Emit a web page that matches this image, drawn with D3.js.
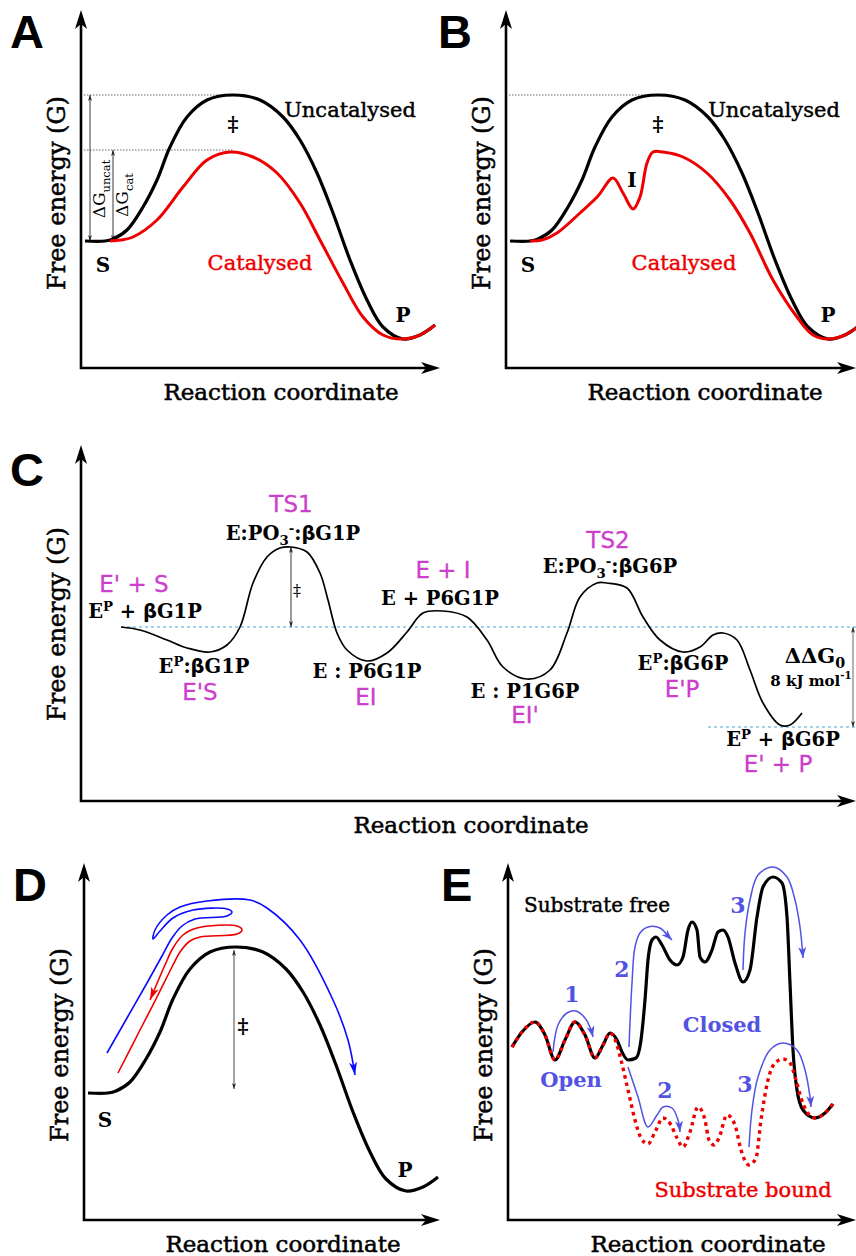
<!DOCTYPE html>
<html>
<head>
<meta charset="utf-8">
<script src="https://cdn.jsdelivr.net/npm/d3@7"></script>
<style>
  body { margin: 0; background: #fff; }
  svg { display: block; }
</style>
</head>
<body>
<script>
// all values: [reaction coordinate, free energy] measured from each panel's origin

// black barrier, shared by A, B and D
var uncatalysed = [[4,127],[24,127],[32,129],[46,138],[62,161],[76,188],[89,221],[106,251],[126,268],[152,273],
  [179,268],[202,251],[219,228],[236,195],[252,155],[269,108],[286,68],[302,41],[322,29],[339,33],[354,43]];
var catalysedA = [[29,127],[40,128],[52,131],[76,148],[102,181],[126,208],[149,216],[172,211],[196,195],[219,165],
  [239,128],[262,85],[282,51],[302,33],[322,29],[339,33],[354,43]];
var catalysedB = [[24,127],[36,128],[51,135],[74,155],[92,172],[107,190],[117,175],[127,159],[134,171],[141,205],
  [147,216],[157,216],[177,211],[201,195],[224,168],[244,135],[267,88],[291,51],[307,33],[322,29],[339,33],[354,43]];
var tsUncat = 273, tsCat = 218, groundS = 127;

// panel C profile
var profileC = [[40,174],[59,171],[86,161],[106,153],[129,149],[146,156],[159,174],[172,218],[186,244],[199,253],
  [210,254],[226,249],[239,228],[247,201],[256,168],[266,151],[286,140],[306,148],[326,169],[342,188],[362,190],
  [386,184],[406,161],[422,134],[446,122],[469,131],[486,168],[499,204],[516,218],[526,218],[546,213],[562,184],
  [579,161],[602,149],[619,154],[632,166],[642,168],[656,161],[669,131],[682,98],[699,76],[709,76],[721,88]];
var levelStart = 174, levelEnd = 74, ts1 = [210, 254];

// panel D trajectories
var recrossing = [[34,147],[56,190],[73,223],[89,255],[96,268],[106,279],[116,283],[153,286],[158,290],[153,294],
  [113,292],[99,285],[89,272],[81,255],[66,220]];
var crossing = [[23,167],[43,202],[63,237],[78,264],[88,282],[98,294],[111,301],[143,304],[148,308],[143,311],
  [109,310],[89,302],[76,289],[69,281],[71,290],[83,305],[96,313],[123,319],[166,320],[183,312],[216,280],
  [249,220],[264,180],[271,145]];
var tsD = [150, 131, 270];

// panel E landscapes
var substrateFree = [[4,173],[14,188],[27,198],[37,185],[47,160],[57,180],[67,198],[77,185],[87,162],[95,175],
  [102,187],[109,180],[114,168],[120,160],[128,162],[133,180],[137,220],[140,260],[144,280],[148,283],[154,275],
  [162,260],[169,255],[175,263],[180,290],[184,298],[189,290],[192,263],[197,258],[204,270],[210,288],[215,290],
  [220,283],[227,257],[235,238],[242,250],[249,303],[255,333],[265,343],[274,337],[279,303],[282,237],[285,170],
  [289,130],[295,110],[307,102],[317,107],[325,116]];
var substrateBound = [[4,173],[14,188],[27,198],[37,185],[47,160],[57,180],[67,198],[77,185],[87,162],[95,175],
  [102,187],[108,178],[113,160],[120,130],[127,100],[133,82],[140,76],[147,88],[155,102],[163,95],[169,82],
  [175,73],[182,88],[190,113],[197,100],[201,80],[206,75],[211,82],[219,105],[227,95],[233,70],[241,55],[248,62],
  [253,100],[260,140],[268,158],[275,161],[282,157],[288,140],[293,122],[299,108],[307,102],[317,107],[325,116]];
var stepArrows = [
  [[45,168],[50,195],[59,207],[68,209],[77,202],[82,193],[85,183]],
  [[121,173],[124,237],[127,273],[132,287],[140,293],[152,292],[160,284],[164,280]],
  [[235,250],[237,287],[242,320],[250,345],[265,353],[279,343],[287,320],[292,293],[295,262]],
  [[120,153],[130,123],[140,93],[149,105],[155,113],[164,112],[170,100],[172,88]],
  [[241,73],[244,110],[250,143],[262,170],[275,177],[289,170],[297,150],[302,123],[303,113]]
];

// labels: text segments and anchor in the same units
var labelsA = [
  {t:"Uncatalysed", at:[269,251], k:"curve"},
  {t:"Catalysed", at:[179,98], k:"curveRed"},
  {t:"S", at:[22,96], k:"state"},
  {t:"P", at:[322,46], k:"state"},
  {t:"‡", at:[152,237], k:"dagger"}
];
var labelsB = [
  {t:"Uncatalysed", at:[268,251], k:"curve"},
  {t:"Catalysed", at:[178,98], k:"curveRed"},
  {t:"S", at:[22,96], k:"state"},
  {t:"P", at:[322,46], k:"state"},
  {t:"I", at:[126,181], k:"state"},
  {t:"‡", at:[152,237], k:"dagger"}
];
var labelsC = [
  {t:"TS1", at:[210,289], k:"magenta"},
  {t:[["E:PO"],["3","sub"],["-","sup"],[":"],["β","b"],["G1P"]], at:[212,261], k:"species"},
  {t:"E' + S", at:[53,209], k:"magenta"},
  {t:[["E"],["P","sup"],[" + "],["β","b"],["G1P"]], at:[64,183], k:"species"},
  {t:[["E"],["P","sup"],[":"],["β","b"],["G1P"]], at:[123,128], k:"species"},
  {t:"E'S", at:[119,101], k:"magenta"},
  {t:"E : P6G1P", at:[286,123], k:"species"},
  {t:"EI", at:[285,96], k:"magenta"},
  {t:"E + I", at:[362,223], k:"magenta"},
  {t:"E + P6G1P", at:[359,196], k:"species"},
  {t:"TS2", at:[527,253], k:"magenta"},
  {t:[["E:PO"],["3","sub"],["-","sup"],[":"],["β","b"],["G6P"]], at:[529,228], k:"species"},
  {t:"E : P1G6P", at:[444,103], k:"species"},
  {t:"EI'", at:[444,78], k:"magenta"},
  {t:[["E"],["P","sup"],[":"],["β","b"],["G6P"]], at:[602,131], k:"species"},
  {t:"E'P", at:[601,104], k:"magenta"},
  {t:[["ΔΔG"],["0","sub"]], at:[734,138], k:"ddg"},
  {t:[["8 kJ mol"],["-1","sup"]], at:[730,115], k:"small"},
  {t:[["E"],["P","sup"],[" + "],["β","b"],["G6P"]], at:[702,55], k:"species"},
  {t:"E' + P", at:[697,29], k:"magenta"},
  {t:"‡", at:[216,205], k:"daggerSmall"}
];
var labelsD = [
  {t:"S", at:[21,93], k:"state"},
  {t:"P", at:[321,43], k:"state"},
  {t:"‡", at:[159,187], k:"dagger"}
];
var labelsE = [
  {t:"Substrate free", at:[89,308], k:"free"},
  {t:"Substrate bound", at:[235,23], k:"curveRed"},
  {t:"Open", at:[63,133], k:"conf"},
  {t:"Closed", at:[214,188], k:"conf"},
  {t:"1", at:[64,218], k:"step"},
  {t:"2", at:[114,243], k:"step"},
  {t:"3", at:[230,307], k:"step"},
  {t:"2", at:[157,122], k:"step"},
  {t:"3", at:[237,128], k:"step"}
];

var RED = "#ee0000", MAGENTA = "#cc3fcc", EBLUE = "#5252e4", CYAN = "#46a6d6";
// f family, s size, w weight, c colour, h extra stroke for heavier serif text
var styles = {
  curve:      {f:"DejaVu Serif", s:21, w:"normal", c:"#000", h:0.45},
  curveRed:   {f:"DejaVu Serif", s:21, w:"normal", c:RED, h:0.45},
  free:       {f:"DejaVu Serif", s:20, w:"normal", c:"#000", h:0.45},
  state:      {f:"DejaVu Serif", s:20, w:"bold", c:"#000"},
  dagger:     {f:"DejaVu Serif", s:21, w:"bold", c:"#000"},
  daggerSmall:{f:"DejaVu Serif", s:16, w:"normal", c:"#000"},
  species:    {f:"DejaVu Serif", s:19.5, w:"bold", c:"#000"},
  magenta:    {f:"DejaVu Sans", s:23, w:"normal", c:MAGENTA, h:0.3},
  ddg:        {f:"DejaVu Serif", s:21, w:"bold", c:"#000"},
  small:      {f:"DejaVu Serif", s:15, w:"bold", c:"#000"},
  conf:       {f:"DejaVu Serif", s:21, w:"bold", c:EBLUE},
  step:       {f:"DejaVu Serif", s:22, w:"bold", c:EBLUE}
};

var W = 856, H = 1256;
var svg = d3.select("body").append("svg")
  .attr("width", W).attr("height", H)
  .attr("viewBox", "0 0 " + W + " " + H);
var defs = svg.append("defs");

//arrowhead markers
var addMarker = function(id, color, len, wid){
  defs.append("marker")
    .attr("id", id)
    .attr("viewBox", (-len) + " " + (-wid/2) + " " + len + " " + wid)
    .attr("markerUnits", "userSpaceOnUse")
    .attr("markerWidth", len).attr("markerHeight", wid)
    .attr("refX", 0).attr("refY", 0)
    .attr("orient", "auto-start-reverse")
    .append("path")
    .attr("d", "M0,0L" + (-len) + "," + (-wid/2) + "L" + (-len*0.72) + ",0L" + (-len) + "," + (wid/2) + "Z")
    .attr("fill", color);
};
addMarker("ahThin", "#222", 6, 4);
addMarker("ahBlue", "#0a0aff", 13, 8);
addMarker("ahRed", RED, 13, 8);
addMarker("ahE", EBLUE, 11, 8);

var frames = {
  A: {x0:81, y0:368, right:440, top:10, letter:[10,48], yl:[65,193], xl:[281,400]},
  B: {x0:506, y0:368, right:856, top:10, letter:[438,48], yl:[490,193], xl:[705,400]},
  C: {x0:81, y0:801, right:856, top:445, letter:[10,486], yl:[65,624], xl:[471,833]},
  D: {x0:84, y0:1220, right:440, top:863, letter:[13,901], yl:[68,1045], xl:[283,1252]},
  E: {x0:508, y0:1220, right:856, top:863, letter:[441,901], yl:[492,1045], xl:[708,1252]}
};

//segments: plain string or [[text, kind], ...]
var rich = function(sel, t){
  if (typeof t === "string"){ sel.text(t); return; }
  var shift = 0;
  t.forEach(function(seg){
    var kind = seg[1] || "";
    var ts = sel.append("tspan").text(seg[0]);
    var target = kind === "sub" ? 5 : (kind === "sup" ? -7 : 0);
    if (target !== shift) ts.attr("dy", target - shift);
    shift = target;
    if (kind === "sub" || kind === "sup") ts.attr("font-size", "0.68em");
    if (kind === "b") ts.attr("font-family", "DejaVu Sans").attr("font-weight", "bold");
  });
};

var heavy = function(sel, color, w){
  return sel.attr("stroke", color).attr("stroke-width", w).attr("stroke-linejoin", "round");
};

var drawPanel = function(name, labels){
  var f = frames[name];
  var g = svg.append("g").attr("class", "panel-" + name);
  var x = d3.scaleLinear().domain([0, f.right - f.x0]).range([f.x0, f.right]);
  var y = d3.scaleLinear().domain([0, f.y0 - f.top]).range([f.y0, f.top]);
  var xm = x.domain()[1], ym = y.domain()[1];

  //axes with arrowheads
  g.append("path")
    .attr("d", "M" + x(0) + "," + (y(ym) + 12) + "V" + y(0) + "H" + (x(xm) - 12))
    .attr("fill", "none").attr("stroke", "#000").attr("stroke-width", 2.6);
  g.append("path")
    .attr("d", "M" + x(0) + "," + y(ym) + "l-6,19l6,-5l6,5z")
    .attr("fill", "#000");
  g.append("path")
    .attr("d", "M" + x(xm) + "," + y(0) + "l-19,-6l5,6l-5,6z")
    .attr("fill", "#000");

  //panel letter
  g.append("text")
    .attr("x", f.letter[0]).attr("y", f.letter[1])
    .attr("font-family", "Liberation Sans").attr("font-weight", "bold")
    .attr("font-size", 47).text(name);

  //axis titles
  heavy(g.append("text")
    .attr("transform", "translate(" + f.yl[0] + "," + f.yl[1] + ") rotate(-90)")
    .attr("text-anchor", "middle")
    .attr("font-family", "DejaVu Serif")
    .attr("font-size", 24).text("Free energy (G)"), "#000", 0.55);
  heavy(g.append("text")
    .attr("x", f.xl[0]).attr("y", f.xl[1])
    .attr("text-anchor", "middle")
    .attr("font-family", "DejaVu Serif")
    .attr("font-size", 23).text("Reaction coordinate"), "#000", 0.55);

  var panel = {g:g, x:x, y:y};
  panel.line = function(curve){
    return d3.line().x(function(d){ return x(d[0]); }).y(function(d){ return y(d[1]); })
      .curve(curve || d3.curveCatmullRom.alpha(0.5));
  };
  panel.labels = function(){
    labels.forEach(function(lab){
      var st = styles[lab.k];
      var t = g.append("text")
        .attr("x", x(lab.at[0])).attr("y", y(lab.at[1]))
        .attr("text-anchor", "middle")
        .attr("font-family", st.f).attr("font-size", st.s)
        .attr("font-weight", st.w).attr("fill", st.c);
      if (st.h) heavy(t, st.c, st.h);
      rich(t, lab.t);
    });
  };
  return panel;
};

var hline = function(p, e, r0, r1, stroke, dash, width){
  p.g.append("line")
    .attr("x1", p.x(r0)).attr("x2", p.x(r1))
    .attr("y1", p.y(e)).attr("y2", p.y(e))
    .attr("stroke", stroke).attr("stroke-width", width || 1)
    .attr("stroke-dasharray", dash);
};
var vArrow = function(p, r, e0, e1, stroke){
  p.g.append("line")
    .attr("x1", p.x(r)).attr("x2", p.x(r))
    .attr("y1", p.y(e0)).attr("y2", p.y(e1))
    .attr("stroke", stroke || "#222").attr("stroke-width", 0.9)
    .attr("marker-start", "url(#ahThin)").attr("marker-end", "url(#ahThin)");
};
var curvePath = function(p, data, stroke, width, curve){
  return p.g.append("path").datum(data)
    .attr("d", p.line(curve))
    .attr("fill", "none").attr("stroke", stroke)
    .attr("stroke-width", width).attr("stroke-linejoin", "round");
};

//////// A ////////
var pA = drawPanel("A", labelsA);
hline(pA, tsUncat, 3, 152, "#444", "1.5,1.5", 0.8);
hline(pA, tsCat, 3, 152, "#444", "1.5,1.5", 0.8);
vArrow(pA, 9, groundS, tsUncat);
vArrow(pA, 32, groundS, tsCat);
curvePath(pA, uncatalysed, "#000", 3.2);
curvePath(pA, catalysedA, RED, 3);
pA.labels();
[["uncat", 24, 189], ["cat", 47, 195]].forEach(function(d){
  var t = pA.g.append("text")
    .attr("transform", "translate(" + pA.x(d[1]) + "," + (d[2]) + ") rotate(-90)")
    .attr("text-anchor", "middle")
    .attr("font-family", "DejaVu Serif").attr("font-size", 17);
  rich(t, [["ΔG"], [d[0], "sub"]]);
});

//////// B ////////
var pB = drawPanel("B", labelsB);
hline(pB, tsUncat, 3, 151, "#444", "1.5,1.5", 0.8);
curvePath(pB, uncatalysed, "#000", 3.2);
curvePath(pB, catalysedB, RED, 3);
pB.labels();

//////// C ////////
var pC = drawPanel("C", labelsC);
hline(pC, levelStart, 40, 775, CYAN, "3,3", 1);
hline(pC, levelEnd, 627, 775, CYAN, "3,3", 1);
vArrow(pC, ts1[0], levelStart, ts1[1]);
vArrow(pC, 772, levelEnd, levelStart, "#555");
curvePath(pC, profileC, "#000", 1.7);
pC.labels();

//////// D ////////
var pD = drawPanel("D", labelsD);
vArrow(pD, tsD[0], tsD[1], tsD[2], "#333");
curvePath(pD, uncatalysed, "#000", 3.2);
curvePath(pD, crossing, "#0a0aff", 1.6).attr("marker-end", "url(#ahBlue)");
curvePath(pD, recrossing, RED, 1.6).attr("marker-end", "url(#ahRed)");
pD.labels();

//////// E ////////
var pE = drawPanel("E", labelsE);
curvePath(pE, substrateFree, "#000", 3.2, d3.curveMonotoneX);
curvePath(pE, substrateBound, RED, 3.4, d3.curveMonotoneX).attr("stroke-dasharray", "3.5,4");
stepArrows.forEach(function(a){
  curvePath(pE, a, EBLUE, 1.5).attr("marker-end", "url(#ahE)");
});
pE.labels();
</script>
</body>
</html>
